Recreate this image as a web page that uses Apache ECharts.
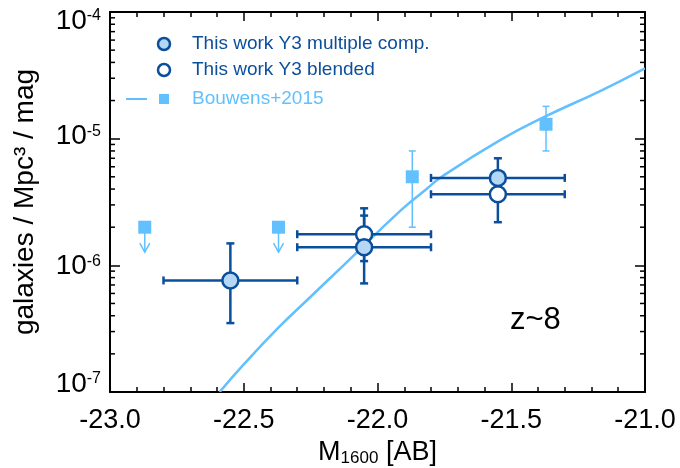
<!DOCTYPE html>
<html>
<head>
<meta charset="utf-8">
<script src="https://cdn.jsdelivr.net/npm/echarts@6/dist/echarts.min.js"></script>
<style>
html, body { margin: 0; padding: 0; background: #fff; }
#chart { width: 680px; height: 468px; }
</style>
</head>
<body>
<div id="chart"></div>
<script>
// UV luminosity function at z~8, M1600 in AB mag, phi in galaxies / Mpc^3 / mag

// This work, Y3, multiple components
const multiMag   = [-22.55, -22.05, -21.55];
const multiPhi   = [7.6e-7, 1.39e-6, 4.9e-6];
const multiPhiLo = [3.5e-7, 7.2e-7, 3.6e-6];
const multiPhiHi = [1.49e-6, 2.47e-6, 7.0e-6];
const multiMagLo = [-22.80, -22.30, -21.80];
const multiMagHi = [-22.30, -21.80, -21.30];

// This work, Y3, blended
const blendMag   = [-22.05, -21.55];
const blendPhi   = [1.76e-6, 3.64e-6];
const blendPhiLo = [1.08e-6, 2.19e-6];
const blendPhiHi = [2.82e-6, 4.7e-6];
const blendMagLo = [-22.30, -21.80];
const blendMagHi = [-21.80, -21.30];

// Bouwens+2015 binned points
const bouwensMag   = [-21.87, -21.37];
const bouwensPhi   = [5.0e-6, 1.3e-5];
const bouwensPhiLo = [2.0e-6, 8.0e-6];
const bouwensPhiHi = [8.0e-6, 1.8e-5];
// Bouwens+2015 upper limits
const limitMag = [-22.87, -22.37];
const limitPhi = [2.0e-6, 2.0e-6];

// Bouwens+2015 Schechter fit
const fitMag = [-22.59, -22.50, -22.375, -22.25, -22.125, -21.91, -21.82, -21.76, -21.54, -21.38, -21.16, -21.00];
const fitPhi = [1.0e-7, 1.65e-7, 3.15e-7, 5.65e-7, 1.01e-6, 2.75e-6, 3.95e-6, 5.0e-6, 9.77e-6, 1.47e-5, 2.42e-5, 3.59e-5];

// Axis ranges
const xMin = -23.0, xMax = -21.0, xStep = 0.5;
const yMin = 1e-7, yMax = 1e-4;

const DARK = '#0b4f9c';
const FILL = '#b4d7f6';
const LIGHT = '#62c0ff';
const FONT = '"Liberation Sans", Arial, sans-serif';

function zipErr(m, p, mlo, mhi, plo, phi) {
  return m.map((v, i) => [v, p[i], mlo ? mlo[i] : v, mhi ? mhi[i] : v, plo[i], phi[i]]);
}

function errorBars(color, width, capHalf) {
  return function (params, api) {
    const x = api.value(0), y = api.value(1);
    const xl = api.value(2), xh = api.value(3);
    const yl = api.value(4), yh = api.value(5);
    const style = { stroke: color, lineWidth: width };
    const kids = [];
    const pyl = api.coord([x, yl]), pyh = api.coord([x, yh]);
    kids.push({ type: 'line', shape: { x1: pyl[0], y1: pyl[1], x2: pyh[0], y2: pyh[1] }, style });
    kids.push({ type: 'line', shape: { x1: pyl[0] - capHalf, y1: pyl[1], x2: pyl[0] + capHalf, y2: pyl[1] }, style });
    kids.push({ type: 'line', shape: { x1: pyh[0] - capHalf, y1: pyh[1], x2: pyh[0] + capHalf, y2: pyh[1] }, style });
    if (xl !== xh) {
      const pxl = api.coord([xl, y]), pxh = api.coord([xh, y]);
      kids.push({ type: 'line', shape: { x1: pxl[0], y1: pxl[1], x2: pxh[0], y2: pxh[1] }, style });
      kids.push({ type: 'line', shape: { x1: pxl[0], y1: pxl[1] - capHalf, x2: pxl[0], y2: pxl[1] + capHalf }, style });
      kids.push({ type: 'line', shape: { x1: pxh[0], y1: pxh[1] - capHalf, x2: pxh[0], y2: pxh[1] + capHalf }, style });
    }
    return { type: 'group', children: kids };
  };
}

// Minor log ticks (2..9 per decade) on the left and right frame
const minorLogValues = [];
for (let e = -7; e < -4; e++) {
  for (let k = 2; k <= 9; k++) minorLogValues.push([xMin, k * Math.pow(10, e)]);
}

// Decade labels 10^n: base + superscript, with a small vertical nudge per decade
const labelNudge = { '-4': 9, '-5': -2, '-6': 1, '-7': -8 };
const SUP_RAISE = 10;
const yLabelRich = {};
Object.keys(labelNudge).forEach(k => {
  const d = labelNudge[k];
  const key = 'e' + (-Number(k));
  yLabelRich['b' + key] = {
    fontSize: 28, color: '#000', fontFamily: FONT,
    padding: d >= 0 ? [2 * d, 0, 0, 0] : [0, 0, -2 * d, 0]
  };
  yLabelRich['s' + key] = {
    fontSize: 16, color: '#000', fontFamily: FONT,
    padding: d >= 0 ? [2 * d, 0, SUP_RAISE, 0] : [0, 0, SUP_RAISE - 2 * d, 0]
  };
});

const chart = echarts.init(document.getElementById('chart'), null, { renderer: 'canvas' });

const axisLineStyle = { color: '#000', width: 2 };
const tickStyle = { color: '#000', width: 1.5 };

const option = {
  animation: false,
  backgroundColor: '#fff',
  textStyle: { fontFamily: FONT },
  grid: { left: 110, right: 35, top: 12, bottom: 76, containLabel: false, outerBoundsMode: 'none' },
  xAxis: [
    {
      type: 'value', min: xMin, max: xMax, interval: xStep,
      axisLine: { show: true, onZero: false, lineStyle: axisLineStyle },
      axisTick: { show: true, inside: true, length: 9, lineStyle: tickStyle },
      minorTick: { show: true, splitNumber: 5, length: 5, lineStyle: tickStyle },
      splitLine: { show: false },
      axisLabel: {
        color: '#000', fontSize: 27, fontFamily: FONT, margin: 15,
        formatter: v => v.toFixed(1)
      },
      name: '{m|M}{s|1600}{m| [AB]}',
      nameLocation: 'middle', nameGap: 45,
      nameTextStyle: {
        rich: {
          m: { fontSize: 27, color: '#000', fontFamily: FONT },
          s: { fontSize: 17, color: '#000', fontFamily: FONT, padding: [12, 0, 0, 0] }
        }
      }
    },
    {
      type: 'value', position: 'top', min: xMin, max: xMax, interval: xStep,
      axisLine: { show: true, onZero: false, lineStyle: axisLineStyle },
      axisTick: { show: true, inside: true, length: 9, lineStyle: tickStyle },
      minorTick: { show: true, splitNumber: 5, length: 5, lineStyle: tickStyle },
      splitLine: { show: false },
      axisLabel: { show: false }
    }
  ],
  yAxis: [
    {
      type: 'log', logBase: 10, min: yMin, max: yMax,
      axisLine: { show: true, onZero: false, lineStyle: axisLineStyle },
      axisTick: { show: true, inside: true, length: 10, lineStyle: tickStyle },
      splitLine: { show: false },
      axisLabel: {
        margin: 9, fontFamily: FONT,
        formatter: v => {
          const e = Math.round(Math.log10(v));
          const key = 'e' + (-e);
          return '{b' + key + '|10}{s' + key + '|' + e + '}';
        },
        rich: yLabelRich
      },
      name: 'galaxies / Mpc³ / mag',
      nameLocation: 'middle', nameGap: 71,
      nameTextStyle: { fontSize: 28, color: '#000', fontFamily: FONT }
    },
    {
      type: 'log', logBase: 10, min: yMin, max: yMax, position: 'right',
      axisLine: { show: true, onZero: false, lineStyle: axisLineStyle },
      axisTick: { show: true, inside: true, length: 10, lineStyle: tickStyle },
      splitLine: { show: false },
      axisLabel: { show: false }
    }
  ],
  series: [
    {
      name: 'minor ticks', type: 'custom', silent: true,
      data: minorLogValues,
      encode: { x: 0, y: 1 },
      clip: false,
      renderItem: function (params, api) {
        const v = api.value(1);
        const pl = api.coord([xMin, v]);
        const pr = api.coord([xMax, v]);
        return {
          type: 'group', children: [
            { type: 'line', shape: { x1: pl[0], y1: pl[1], x2: pl[0] + 5, y2: pl[1] }, style: { stroke: '#000', lineWidth: 1.5 } },
            { type: 'line', shape: { x1: pr[0], y1: pr[1], x2: pr[0] - 5, y2: pr[1] }, style: { stroke: '#000', lineWidth: 1.5 } }
          ]
        };
      }
    },
    {
      // Schechter fit drawn as one smooth path through the tabulated points
      name: 'Bouwens+2015 fit', type: 'custom', silent: true,
      data: [[fitMag[0], fitPhi[0]]],
      encode: { x: 0, y: 1 },
      clip: true,
      renderItem: function (params, api) {
        const pts = fitMag.map((m, i) => api.coord([m, fitPhi[i]]));
        return {
          type: 'polyline',
          shape: { points: pts, smooth: 0.5 },
          style: { stroke: LIGHT, lineWidth: 2.5, fill: null }
        };
      }
    },
    {
      name: 'Bouwens+2015 errors', type: 'custom',
      data: zipErr(bouwensMag, bouwensPhi, null, null, bouwensPhiLo, bouwensPhiHi),
      encode: { x: 0, y: 1 },
      renderItem: errorBars(LIGHT, 1.5, 3.5)
    },
    {
      name: 'Bouwens+2015', type: 'scatter',
      data: bouwensMag.map((m, i) => [m, bouwensPhi[i]]),
      symbol: 'rect', symbolSize: 13,
      itemStyle: { color: LIGHT, opacity: 1 }
    },
    {
      name: 'Bouwens+2015 limits', type: 'custom',
      data: limitMag.map((m, i) => [m, limitPhi[i]]),
      encode: { x: 0, y: 1 },
      renderItem: function (params, api) {
        const p = api.coord([api.value(0), api.value(1)]);
        const style = { stroke: LIGHT, lineWidth: 1.5, fill: null };
        return {
          type: 'group', children: [
            { type: 'line', shape: { x1: p[0], y1: p[1], x2: p[0], y2: p[1] + 25 }, style },
            { type: 'polyline', shape: { points: [[p[0] - 5, p[1] + 16], [p[0], p[1] + 25], [p[0] + 5, p[1] + 16]] }, style }
          ]
        };
      }
    },
    {
      name: 'Bouwens+2015 limit points', type: 'scatter',
      data: limitMag.map((m, i) => [m, limitPhi[i]]),
      symbol: 'rect', symbolSize: 13,
      itemStyle: { color: LIGHT, opacity: 1 }
    },
    {
      name: 'blended errors', type: 'custom',
      data: zipErr(blendMag, blendPhi, blendMagLo, blendMagHi, blendPhiLo, blendPhiHi),
      encode: { x: 0, y: 1 },
      renderItem: errorBars(DARK, 2.5, 4)
    },
    {
      name: 'This work Y3 blended', type: 'scatter',
      data: blendMag.map((m, i) => [m, blendPhi[i]]),
      symbol: 'circle', symbolSize: 16,
      itemStyle: { color: '#fff', borderColor: DARK, borderWidth: 2.5, opacity: 1 }
    },
    {
      name: 'multiple errors', type: 'custom',
      data: zipErr(multiMag, multiPhi, multiMagLo, multiMagHi, multiPhiLo, multiPhiHi),
      encode: { x: 0, y: 1 },
      renderItem: errorBars(DARK, 2.5, 4)
    },
    {
      name: 'This work Y3 multiple comp.', type: 'scatter',
      data: multiMag.map((m, i) => [m, multiPhi[i]]),
      symbol: 'circle', symbolSize: 16,
      itemStyle: { color: FILL, borderColor: DARK, borderWidth: 2.5, opacity: 1 }
    }
  ],
  graphic: [
    // legend
    { type: 'circle', shape: { cx: 164, cy: 44, r: 6 }, style: { fill: FILL, stroke: DARK, lineWidth: 2.5 } },
    { type: 'text', left: 192, top: 34, style: { text: 'This work Y3 multiple comp.', fill: DARK, fontSize: 19, fontFamily: FONT } },
    { type: 'circle', shape: { cx: 164, cy: 70, r: 6 }, style: { fill: '#fff', stroke: DARK, lineWidth: 2.5 } },
    { type: 'text', left: 192, top: 60, style: { text: 'This work Y3 blended', fill: DARK, fontSize: 19, fontFamily: FONT } },
    { type: 'line', shape: { x1: 126, y1: 99, x2: 147, y2: 99 }, style: { stroke: LIGHT, lineWidth: 2 } },
    { type: 'rect', shape: { x: 159, y: 94, width: 10, height: 10 }, style: { fill: LIGHT } },
    { type: 'text', left: 192, top: 89, style: { text: 'Bouwens+2015', fill: LIGHT, fontSize: 19, fontFamily: FONT } },
    // redshift tag
    { type: 'text', left: 510, top: 305, style: { text: 'z~8', fill: '#000', fontSize: 31, fontFamily: FONT } }
  ]
};

chart.setOption(option);
</script>
</body>
</html>
